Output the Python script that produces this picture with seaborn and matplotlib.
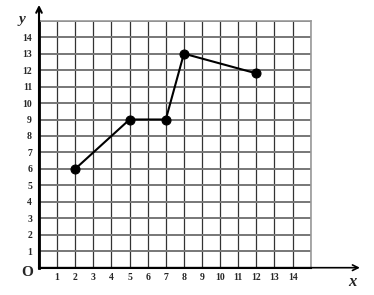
import matplotlib
matplotlib.use("Agg")
import matplotlib.pyplot as plt
import seaborn as sns
import pandas as pd

# data
x_vals = [2, 5, 7, 8, 12]
y_vals = [6, 9, 9, 13, 11.8]
tick_positions = list(range(16))
tick_labels = [""] + [str(i) for i in range(1, 15)] + [""]

sns.set_theme(style="white")
plt.rcParams['font.family'] = ['Liberation Serif', 'DejaVu Serif']

fig = plt.figure(figsize=(3.74, 2.95), dpi=100)
ax = fig.add_axes([39/374, (295-267.7)/295, 271.7/374, 247/295])

df = pd.DataFrame({"x": x_vals, "y": y_vals})
sns.lineplot(data=df, x="x", y="y", sort=False, color="black", linewidth=1.5,
             marker="o", markersize=6.5, markeredgecolor="black", ax=ax, zorder=5)

ax.set_xlim(0, 15)
ax.set_ylim(0, 15)
ax.set_xticks(tick_positions)
ax.set_yticks(tick_positions)
ax.set_xticklabels(tick_labels, fontsize=7, fontweight="bold")
ax.set_yticklabels(tick_labels, fontsize=7, fontweight="bold")
ax.tick_params(axis="both", length=0)
ax.tick_params(axis="x", pad=4)
ax.tick_params(axis="y", pad=5)
ax.xaxis.grid(True, color="#333333", linewidth=0.9)
ax.yaxis.grid(True, color="#777777", linewidth=1.4)
ax.set_xlabel("")
ax.set_ylabel("")

for s in ["top", "right"]:
    ax.spines[s].set_color("#999999")
    ax.spines[s].set_linewidth(1.2)
ax.spines["left"].set_color("black")
ax.spines["left"].set_linewidth(2.0)
ax.spines["bottom"].set_color("black")
ax.spines["bottom"].set_linewidth(1.5)

# axis arrows
ax.annotate("", xy=(0, 1.064), xytext=(0, 0), xycoords="axes fraction",
            arrowprops=dict(arrowstyle="->", color="black", lw=1.5, shrinkA=0, shrinkB=0,
                            mutation_scale=10), annotation_clip=False)
ax.annotate("", xy=(1.181, 0), xytext=(0, 0), xycoords="axes fraction",
            arrowprops=dict(arrowstyle="->", color="black", lw=1.2, shrinkA=0, shrinkB=0,
                            mutation_scale=10), annotation_clip=False)

fig.text(22/374, 1 - 20/295, "y", fontsize=11, fontstyle="italic", fontweight="bold",
         ha="center", va="center")
fig.text(352/374, 1 - 282/295, "x", fontsize=12, fontstyle="italic", fontweight="bold",
         ha="center", va="center")
fig.text(27/374, 1 - 272/295, "O", fontsize=11, fontweight="bold",
         ha="center", va="center")

fig.savefig("out.png", dpi=100)
